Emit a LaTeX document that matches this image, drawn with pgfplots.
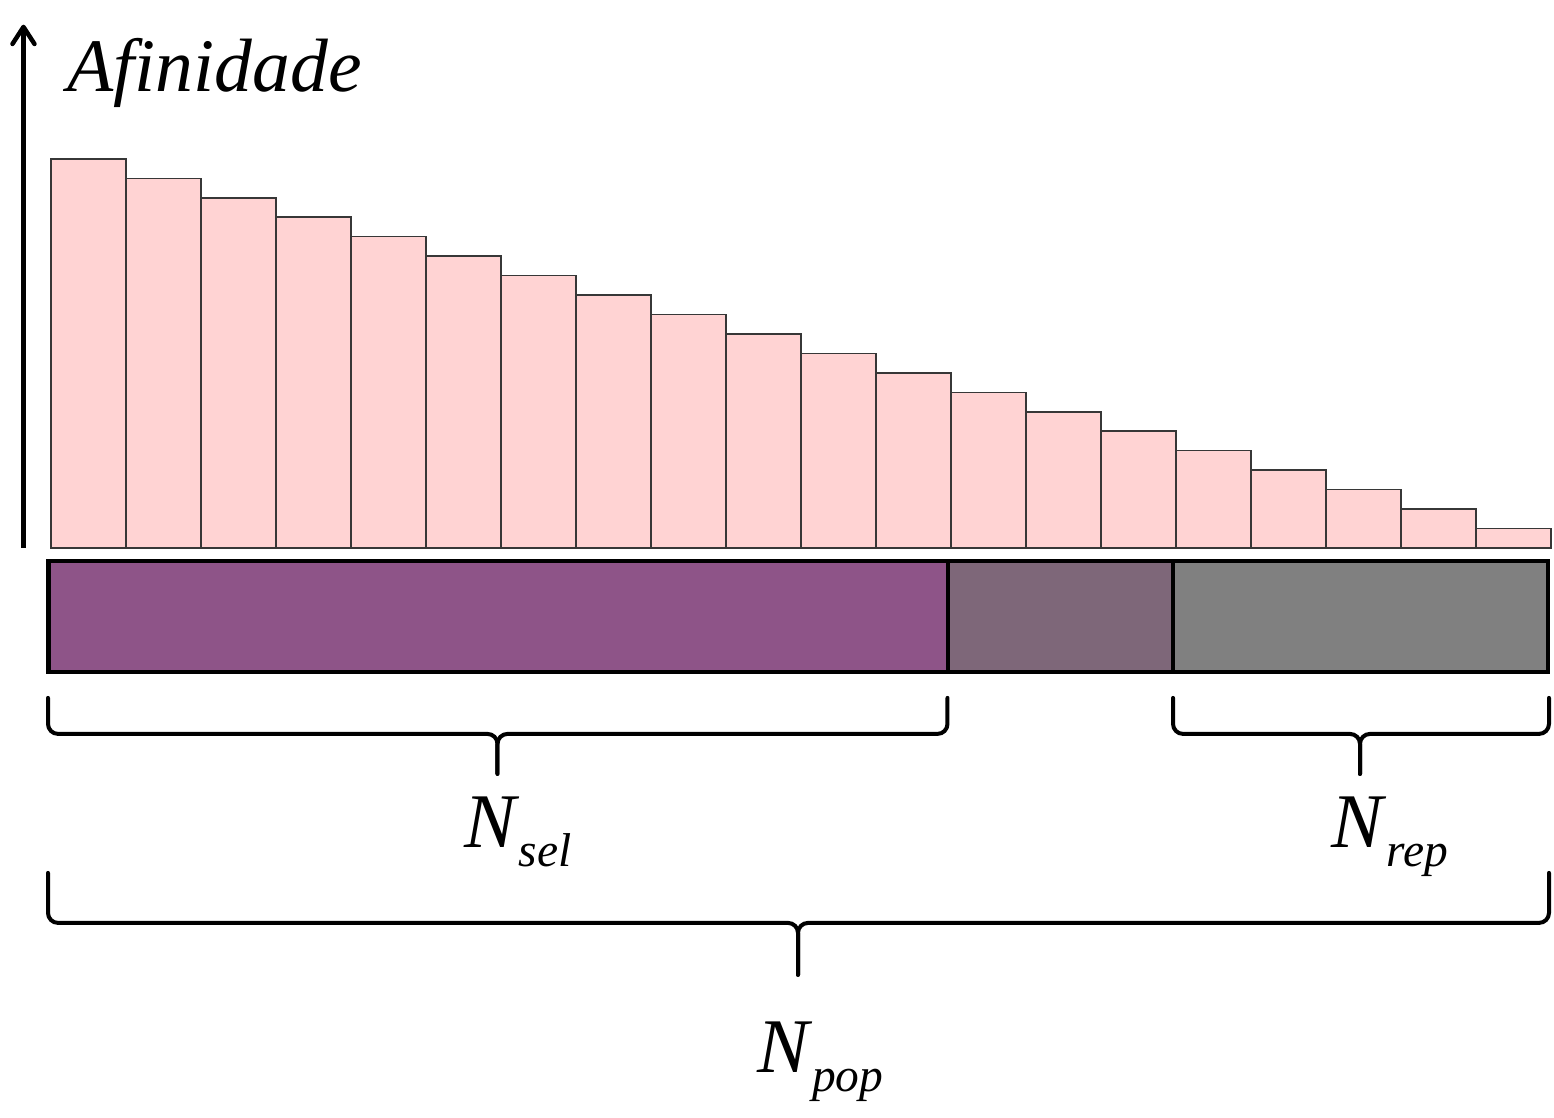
\documentclass[border=0pt]{standalone}
\usepackage{fontspec}
\setmainfont{Liberation Serif}[Ligatures=NoCommon]
\usepackage{pgfplots}
\pgfplotsset{compat=1.18}
\usetikzlibrary{arrows.meta}
\definecolor{barpink}{RGB}{255,211,211}
\definecolor{barline}{RGB}{55,55,55}
\definecolor{selpurple}{RGB}{142,84,136}
\definecolor{midpurple}{RGB}{126,103,121}
\definecolor{repgray}{RGB}{128,128,128}
\newcommand{\Nlab}[1]{{\fontsize{22pt}{24pt}\selectfont\itshape N}\hspace{0.03cm}\raisebox{-0.19cm}{\fontsize{13.5pt}{15pt}\selectfont\itshape #1}}
% brace: xl, xr, xc, y0 (ends), y1 (horizontal), y2 (tip)
\newcommand{\wbrace}[6]{%
  \draw[line width=0.04cm,line cap=round,rounded corners=0.1cm]
    (axis cs:#1,#4) -- (axis cs:#1,#5) -- (axis cs:#3,#5) [rounded corners=0.07cm] -- (axis cs:#3,#6);
  \draw[line width=0.04cm,line cap=round,rounded corners=0.1cm]
    (axis cs:#2,#4) -- (axis cs:#2,#5) -- (axis cs:#3,#5) [rounded corners=0.07cm] -- (axis cs:#3,#6);
}
\begin{document}
\begin{tikzpicture}
\begin{axis}[width=15.54cm,height=11.18cm,scale only axis,
  xmin=-0.68,xmax=20.04,ymin=-29.31,ymax=28.17,
  axis lines=none,clip=false]
\path (rel axis cs:0,0) rectangle (rel axis cs:1,1);
\addplot[ybar,bar width=1,bar shift=0,fill=barpink,draw=barline,line width=0.45pt]
  coordinates {(0.5,20) (1.5,19) (2.5,18) (3.5,17) (4.5,16) (5.5,15) (6.5,14) (7.5,13) (8.5,12) (9.5,11)
               (10.5,10) (11.5,9) (12.5,8) (13.5,7) (14.5,6) (15.5,5) (16.5,4) (17.5,3) (18.5,2) (19.5,1)};
% population bar
\fill[selpurple] (axis cs:-0.033,-0.668) rectangle (axis cs:11.96,-6.375);
\fill[midpurple] (axis cs:11.96,-0.668) rectangle (axis cs:14.96,-6.375);
\fill[repgray] (axis cs:14.96,-0.668) rectangle (axis cs:19.96,-6.375);
\draw[line width=0.042cm] (axis cs:-0.033,-0.668) rectangle (axis cs:19.96,-6.375);
\draw[line width=0.042cm] (axis cs:11.96,-0.668) -- (axis cs:11.96,-6.375);
\draw[line width=0.042cm] (axis cs:14.96,-0.668) -- (axis cs:14.96,-6.375);
% y arrow
\draw[line width=0.045cm,-{Straight Barb[length=1.7mm,width=2.2mm,round]}] (axis cs:-0.367,0) -- (axis cs:-0.367,26.9);
% braces
\wbrace{-0.04}{11.953}{5.953}{-7.712}{-9.563}{-11.62}
\wbrace{14.96}{19.973}{17.453}{-7.712}{-9.563}{-11.62}
\wbrace{-0.04}{19.973}{9.96}{-16.71}{-19.28}{-21.95}
% labels
\node[anchor=base west,inner sep=0] at (axis cs:0.213,23.44) {\fontsize{21.5pt}{24pt}\selectfont\itshape Afinidade};
\node[anchor=base west,inner sep=0] at (axis cs:5.5,-15.42) {\Nlab{sel}};
\node[anchor=base west,inner sep=0] at (axis cs:17.07,-15.42) {\Nlab{rep}};
\node[anchor=base west,inner sep=0] at (axis cs:9.41,-26.99) {\Nlab{pop}};
\end{axis}
\end{tikzpicture}
\end{document}
